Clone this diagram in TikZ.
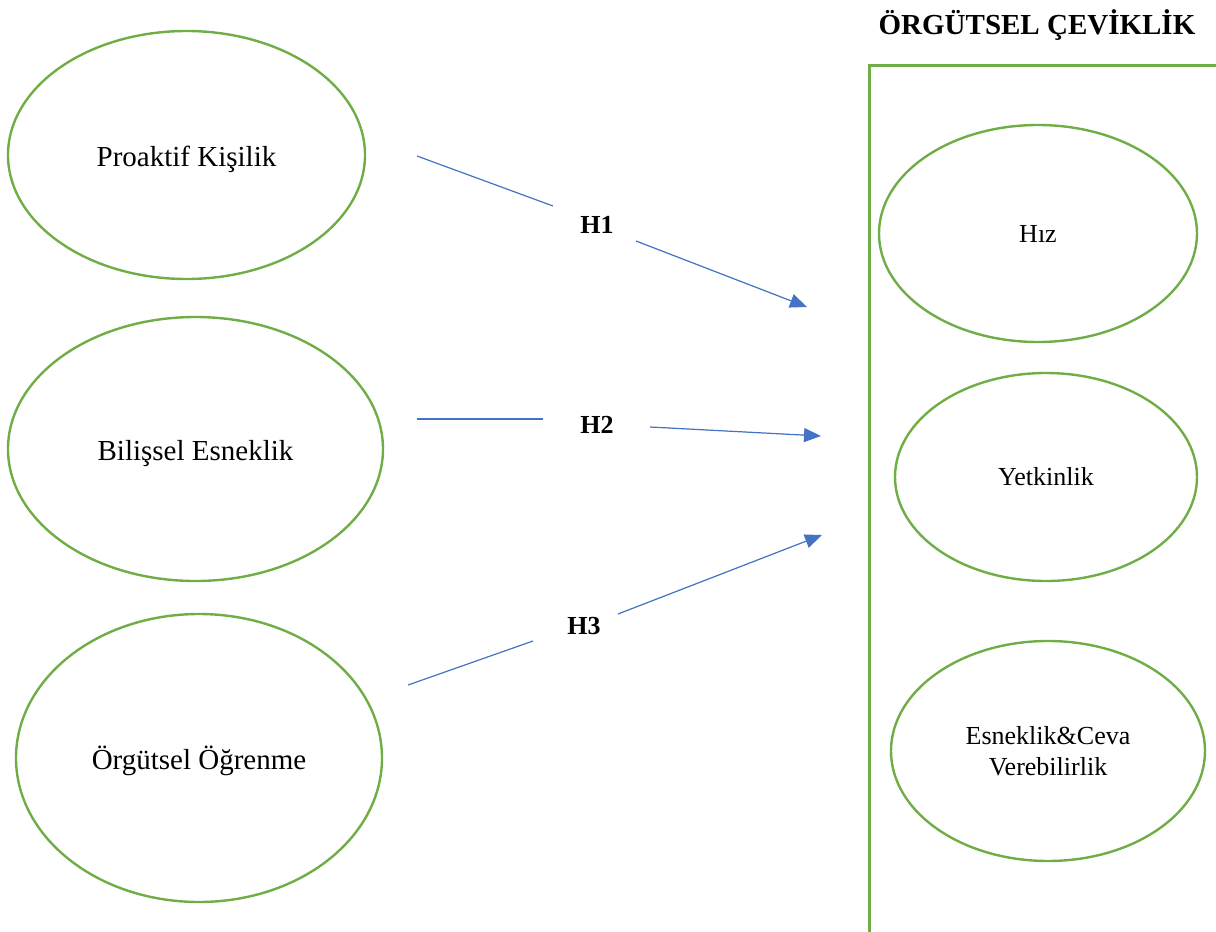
\documentclass[tikz,border=0pt]{standalone}
\usepackage{fontspec}
\setmainfont{Liberation Serif}
\usetikzlibrary{shapes.geometric,arrows.meta}

\tikzset{
  oval/.style={ellipse, draw={rgb, 255:red, 112; green, 173; blue, 71}, line width=1.2pt, inner sep=0pt, align=center},
  leftlbl/.style={font=\fontsize{14.5}{17}\selectfont, text height=12pt, text depth=1pt},
  rightlbl/.style={font=\fontsize{13}{15.5}\selectfont},
  hyp/.style={draw={rgb, 255:red, 68; green, 114; blue, 196}, line width=0.6pt},
  hyptip/.style={hyp, -{Triangle[length=8.5pt,width=7pt]}, fill={rgb, 255:red, 68; green, 114; blue, 196}},
  hlabel/.style={inner sep=0.75pt, font=\fontsize{13}{15}\selectfont\bfseries}
}

\begin{document}
\begin{tikzpicture}[x=0.5pt,y=0.5pt,yscale=-1,xscale=1]
\path[use as bounding box] (0,0) rectangle (1216,932);

%Frame of the right block
\draw [draw={rgb, 255:red, 112; green, 173; blue, 71}, line width=1.5pt] (869,932) -- (869,65) -- (1216,65) ;
% Text Node
\node [inner sep=0.75pt, font=\fontsize{14.5}{17}\selectfont\bfseries] (title) at (1037,25) {ÖRGÜTSEL ÇEVİKLİK};

%Ellipses on the left
\node [oval, leftlbl, minimum width=178.5pt, minimum height=124pt] (proaktif) at (186.5,155) {Proaktif Kişilik};
\node [oval, leftlbl, minimum width=187.5pt, minimum height=132pt] (bilissel) at (195.5,449) {Bilişsel Esneklik};
\node [oval, leftlbl, minimum width=183pt, minimum height=144pt] (ogrenme) at (199,758) {Örgütsel Öğrenme};

%Ellipses on the right
\node [oval, rightlbl, minimum width=159pt, minimum height=108.5pt] (hiz) at (1038,233.5) {Hız};
\node [oval, rightlbl, minimum width=151pt, minimum height=104pt] (yetkinlik) at (1046,477) {Yetkinlik};
\node [oval, rightlbl, minimum width=157pt, minimum height=110pt] (esneklik) at (1048,751) {Esneklik\&Ceva\\Verebilirlik};

% Text Node
\node [hlabel] (h1) at (597,225) {H1};
% Text Node
\node [hlabel] (h2) at (597,425) {H2};
% Text Node
\node [hlabel] (h3) at (584,626) {H3};

\coordinate (h1a) at (417,156);
\coordinate (h1b) at (553,206);
\coordinate (h1c) at (636,241);
\coordinate (h1d) at (807,307);
\coordinate (h2a) at (417,419);
\coordinate (h2b) at (543,419);
\coordinate (h2c) at (650,427);
\coordinate (h2d) at (821,436);
\coordinate (h3a) at (408,685);
\coordinate (h3b) at (533,641);
\coordinate (h3c) at (618,614);
\coordinate (h3d) at (822,535);

%Straight Lines
\draw [hyp] (h1a) -- (h1b) ;
\draw [hyptip] (h1c) -- (h1d) ;
%Straight Lines
\draw [hyp] (h2a) -- (h2b) ;
\draw [hyptip] (h2c) -- (h2d) ;
%Straight Lines
\draw [hyp] (h3a) -- (h3b) ;
\draw [hyptip] (h3c) -- (h3d) ;

\end{tikzpicture}
\end{document}
